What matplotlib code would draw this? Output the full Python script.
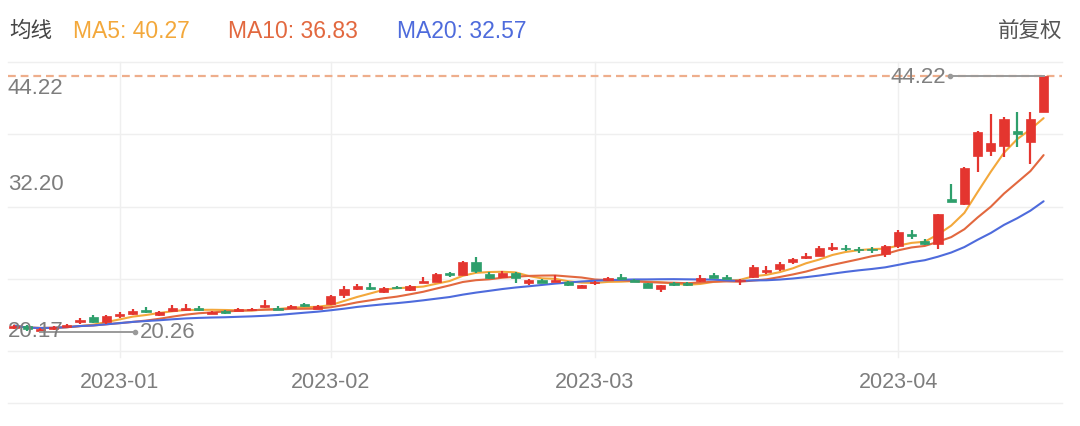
import matplotlib
matplotlib.use("Agg")
import matplotlib.pyplot as plt
from matplotlib.lines import Line2D
import numpy as np
import pandas as pd

plt.rcParams['font.family'] = ['Liberation Sans', 'Noto Sans CJK SC', 'DejaVu Sans']

# ---------------- data ----------------
dec_days = [21, 22, 23, 26, 27, 28, 29, 30]
jan_days = [3, 4, 5, 6, 9, 10, 11, 12, 13, 16, 17, 18, 19, 20, 30, 31]
feb_days = [1, 2, 3, 6, 7, 8, 9, 10, 13, 14, 15, 16, 17, 20, 21, 22, 23, 24, 27, 28]
mar_days = [1, 2, 3, 6, 7, 8, 9, 10, 13, 14, 15, 16, 17, 20, 21, 22, 23, 24, 27, 28, 29, 30, 31]
apr_days = [3, 4, 6, 7, 10, 11, 12, 13, 14, 17, 18, 19]
dates = ([f"2022-12-{d:02d}" for d in dec_days] + [f"2023-01-{d:02d}" for d in jan_days] +
         [f"2023-02-{d:02d}" for d in feb_days] + [f"2023-03-{d:02d}" for d in mar_days] +
         [f"2023-04-{d:02d}" for d in apr_days])

opens = [20.60, 20.80, 20.35, 20.50, 20.70, 21.20, 21.70, 21.15, 21.75, 21.95,
         22.30, 21.85, 22.25, 22.30, 22.55, 21.95, 22.20, 22.25, 22.30, 22.60,
         22.55, 22.50, 22.90, 22.45, 22.85, 23.75, 24.25, 24.50, 24.05, 24.45,
         24.15, 24.85, 24.95, 25.75, 25.60, 26.85, 25.65, 25.40, 25.75, 24.80,
         25.10, 24.95, 24.90, 24.40, 24.80, 25.10, 25.45, 25.15, 24.80, 24.30,
         24.80, 24.80, 25.05, 25.55, 25.35, 25.02, 25.40, 25.90, 26.15, 26.80,
         27.15, 27.40, 28.00, 28.15, 28.00, 28.00, 27.55, 28.35, 29.40, 28.75,
         28.50, 32.70, 32.24, 36.73, 37.20, 37.67, 39.05, 38.04, 40.85]
highs = [20.95, 20.90, 20.62, 20.80, 21.05, 21.55, 21.85, 21.85, 22.15, 22.45,
         22.60, 22.25, 22.80, 22.85, 22.70, 22.25, 22.30, 22.50, 22.55, 23.30,
         22.65, 22.75, 23.00, 22.75, 23.70, 24.60, 24.75, 24.80, 24.50, 24.55,
         24.65, 25.45, 25.80, 25.90, 26.95, 27.30, 25.90, 25.95, 25.85, 25.20,
         25.20, 25.55, 25.00, 24.70, 25.05, 25.45, 25.65, 25.25, 24.85, 24.70,
         24.90, 24.90, 25.55, 25.80, 25.55, 25.20, 26.55, 26.40, 26.85, 27.15,
         27.65, 28.35, 28.60, 28.40, 28.20, 28.25, 28.40, 29.80, 29.85, 28.95,
         31.35, 34.11, 35.70, 39.10, 40.66, 40.38, 40.85, 40.85, 44.22]
lows = [20.50, 20.40, 20.26, 20.42, 20.62, 21.05, 21.10, 21.05, 21.60, 21.85,
        22.05, 21.75, 22.15, 22.25, 22.25, 21.90, 21.95, 22.20, 22.25, 22.55,
        22.30, 22.45, 22.60, 22.40, 22.80, 23.45, 24.15, 24.20, 23.95, 24.25,
        24.10, 24.80, 24.90, 25.40, 25.55, 25.80, 25.20, 25.30, 24.85, 24.70,
        24.80, 24.90, 24.60, 24.35, 24.70, 25.00, 25.15, 24.90, 24.35, 24.05,
        24.60, 24.60, 24.90, 25.30, 25.20, 24.70, 25.35, 25.70, 26.00, 26.60,
        27.05, 27.35, 27.80, 27.85, 27.70, 27.70, 27.30, 28.15, 28.95, 28.40,
        28.03, 32.40, 32.10, 35.23, 36.73, 36.64, 37.57, 35.98, 40.85]
closes = [20.85, 20.50, 20.55, 20.70, 20.95, 21.35, 21.20, 21.75, 21.95, 22.25,
          22.10, 22.15, 22.55, 22.55, 22.30, 22.15, 22.05, 22.40, 22.45, 22.80,
          22.35, 22.65, 22.65, 22.65, 23.60, 24.25, 24.55, 24.30, 24.35, 24.35,
          24.55, 25.00, 25.65, 25.60, 26.80, 25.95, 25.35, 25.80, 25.30, 25.10,
          24.85, 25.15, 24.65, 24.65, 24.95, 25.35, 25.25, 24.95, 24.40, 24.65,
          24.70, 24.70, 25.35, 25.35, 25.25, 25.05, 26.35, 26.05, 26.60, 27.05,
          27.40, 28.10, 28.20, 28.00, 27.90, 27.90, 28.30, 29.65, 29.25, 28.45,
          31.30, 32.45, 35.61, 38.98, 37.95, 40.20, 38.80, 40.20, 44.22]

ma_periods = [5, 10, 20]
ma_names = ["MA5", "MA10", "MA20"]
ma_shown = ["40.27", "36.83", "32.57"]
axis_labels = ["44.22", "32.20", "20.17"]
adj_label = "前复权"
title_label = "均线"

# ---------------- style ----------------
W, H = 1080, 427
UP = "#e4352f"
DOWN = "#2e9f6c"
MA_COLORS = ["#f3a83b", "#e2683f", "#4e6bdc"]
GRID = "#efefef"
TXT = "#7d7d7d"

fig = plt.figure(figsize=(W / 100, H / 100), dpi=100)
fig.patch.set_facecolor("white")

ax_l, ax_r, ax_t, ax_b = 8, 1062, 63, 352
ax = fig.add_axes([ax_l / W, 1 - ax_b / H, (ax_r - ax_l) / W, (ax_b - ax_t) / H])
for s in ax.spines.values():
    s.set_visible(False)
ax.set_xticks([])
ax.set_yticks([])

# price scale: px per unit from max/min markers
hi_val, lo_val = max(highs), min(lows)
hi_px, lo_px = 77, 333
per_px = (hi_val - lo_val) / (lo_px - hi_px)
ytop = hi_val + (hi_px - ax_t) * per_px
ybot = hi_val - (ax_b - hi_px) * per_px
ax.set_ylim(ybot, ytop)

n = len(closes)
x = np.arange(n)
step = 13.2
ax.set_xlim(-(14 - ax_l) / step, (ax_r - 14) / step)

# grid
for f in [0, 0.25, 0.5, 0.75, 1.0]:
    ax.axhline(ybot + f * (ytop - ybot), color=GRID, lw=1.0, zorder=0, clip_on=False)
months = [d[:7] for d in dates]
month_idx = [i for i in range(1, n) if months[i] != months[i - 1]]
for i in month_idx:
    ax.axvline(i, ymin=-0.02, ymax=1, color=GRID, lw=1.0, zorder=0, clip_on=False)
    ax.text(i, -0.104, months[i], transform=ax.get_xaxis_transform(),
            ha="center", va="center", fontsize=15.5, color=TXT)

# max price dashed line
ax.axhline(hi_val, color="#eeae8c", lw=1.6, ls=(0, (3.5, 2.2)), zorder=1)

# candles
o = np.array(opens); c = np.array(closes); h = np.array(highs); l = np.array(lows)
up = c >= o
cols = np.where(up, UP, DOWN)
ax.vlines(x, l, h, colors=cols, lw=1.6, zorder=3)
body_bot = np.minimum(o, c)
body_h = np.maximum(np.abs(c - o), 0.12)
ax.bar(x, body_h, bottom=body_bot, width=0.7, color=cols, edgecolor=cols, lw=0.5, zorder=4)

# moving averages
cs = pd.Series(closes)
for p, col in zip(ma_periods, MA_COLORS):
    ma = cs.rolling(p, min_periods=1).mean()
    ax.plot(x, ma, color=col, lw=1.5, zorder=2, solid_capstyle="round")

# high / low markers
i_hi = int(np.argmax(highs)); i_lo = int(np.argmin(lows))
hi_dot = i_hi - 7.1
ax.plot([hi_dot, i_hi], [hi_val, hi_val], color="#9a9a9a", lw=1.4, zorder=5)
ax.plot([hi_dot], [hi_val], "o", ms=3, color="#9a9a9a", zorder=5)
ax.text(hi_dot - 0.3, hi_val, f"{hi_val:.2f}", ha="right", va="center",
        fontsize=16, color="#808080", zorder=6)
lo_dot = i_lo + 7.2
ax.plot([i_lo, lo_dot], [lo_val, lo_val], color="#9a9a9a", lw=1.4, zorder=5)
ax.plot([lo_dot], [lo_val], "o", ms=3, color="#9a9a9a", zorder=5)
ax.text(lo_dot + 0.35, lo_val, f"{lo_val:.2f}", ha="left", va="center",
        fontsize=16, color="#808080", zorder=6)

# axis value labels
fig.text(8 / W, 1 - 89 / H, axis_labels[0], ha="left", va="center", fontsize=16, color=TXT)
fig.text(8 / W, 1 - 185 / H, axis_labels[1], ha="left", va="center", fontsize=16, color=TXT)
fig.text(8 / W, 1 - 332 / H, axis_labels[2], ha="left", va="center", fontsize=16, color=TXT,
         zorder=1)

# header
fig.text(9 / W, 1 - 31 / H, title_label, ha="left", va="center", fontsize=15.5,
         color="#444444", family=["Noto Sans CJK SC", "DejaVu Sans"])
ma_x = [73, 228, 397]
for xx, nm, val, col in zip(ma_x, ma_names, ma_shown, MA_COLORS):
    fig.text(xx / W, 1 - 31 / H, f"{nm}: {val}", ha="left", va="center", fontsize=16.5, color=col)
fig.text(1062 / W, 1 - 31 / H, adj_label, ha="right", va="center", fontsize=15.5,
         color="#555555", family=["Noto Sans CJK SC", "DejaVu Sans"])

# separator under dates
fig.add_artist(Line2D([ax_l / W, ax_r / W], [1 - 404 / H, 1 - 404 / H], color=GRID, lw=1.0))

fig.savefig("out.png", dpi=100, facecolor="white")
